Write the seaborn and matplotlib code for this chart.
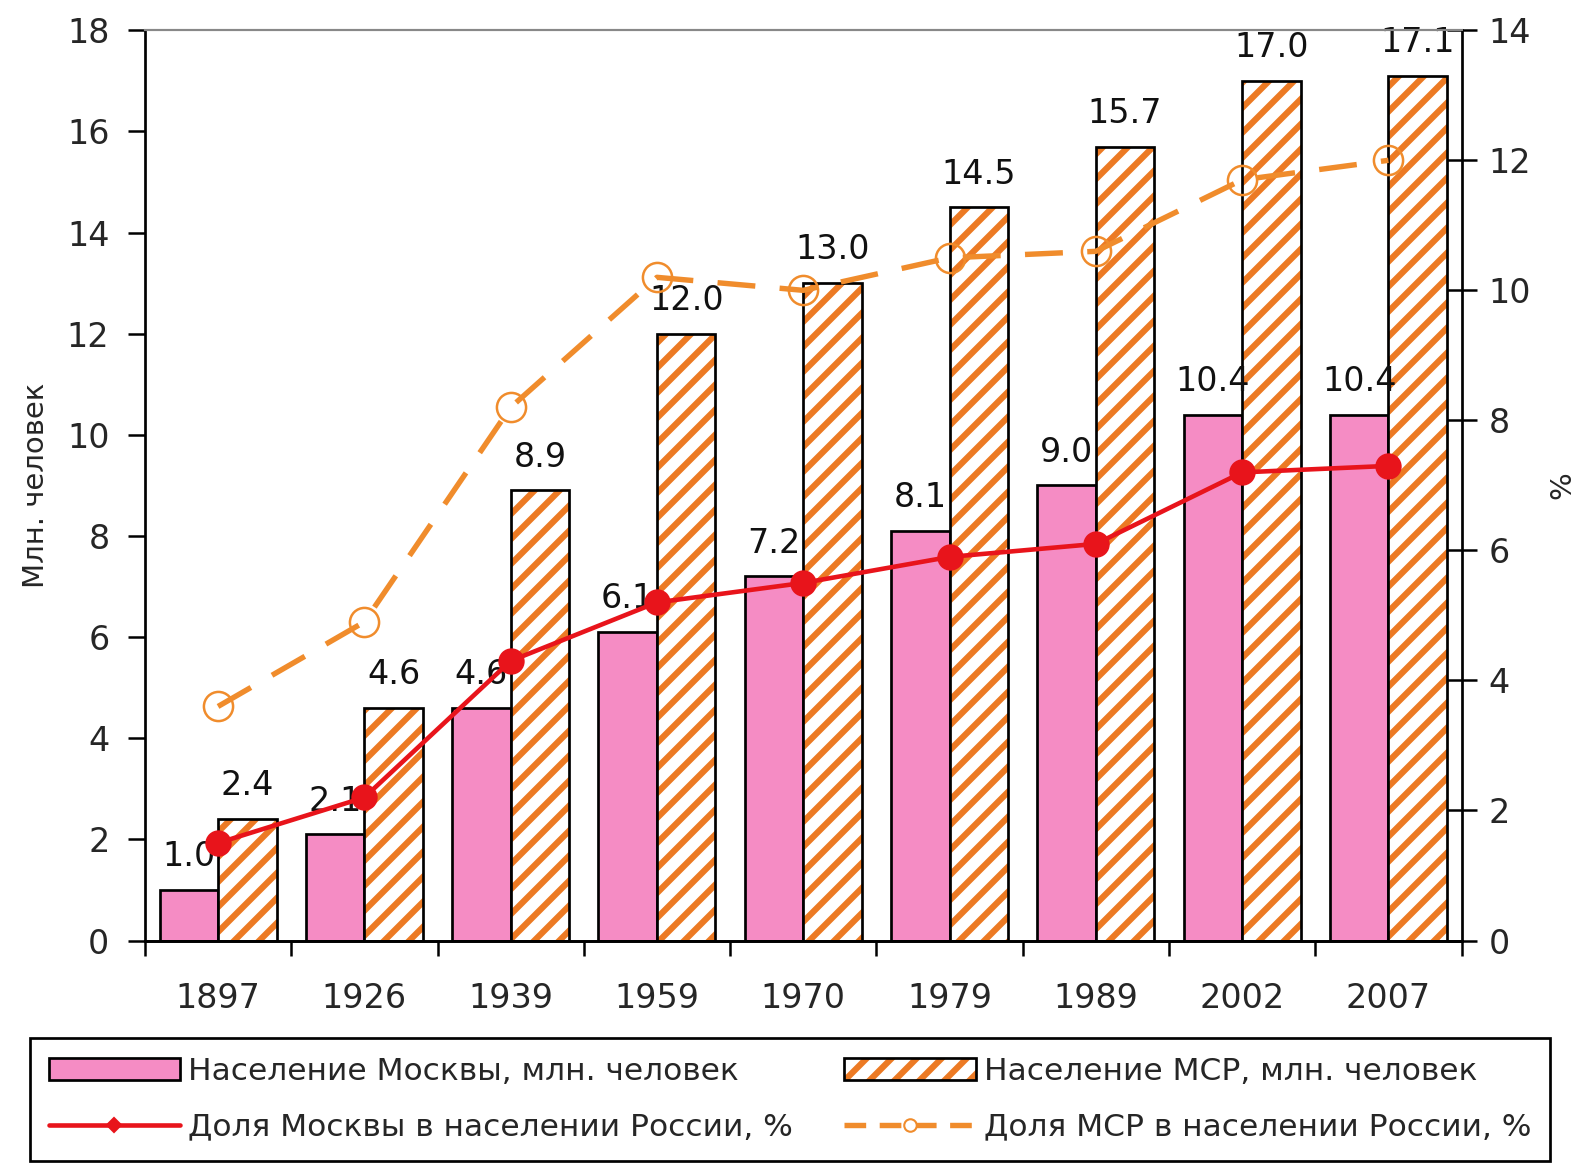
import matplotlib
matplotlib.use('Agg')
import matplotlib.pyplot as plt
from matplotlib.patches import Rectangle, Patch
from matplotlib.lines import Line2D
from matplotlib.legend_handler import HandlerTuple
import pandas as pd
import numpy as np
import seaborn as sns

years = ['1897', '1926', '1939', '1959', '1970', '1979', '1989', '2002', '2007']
moscow_pop = [1.0, 2.1, 4.6, 6.1, 7.2, 8.1, 9.0, 10.4, 10.4]
msr_pop = [2.4, 4.6, 8.9, 12.0, 13.0, 14.5, 15.7, 17.0, 17.1]
moscow_share = [1.5, 2.2, 4.3, 5.2, 5.5, 5.9, 6.1, 7.2, 7.3]
msr_share = [3.6, 4.9, 8.2, 10.2, 10.0, 10.5, 10.6, 11.7, 12.0]

lbl_moscow_pop = 'Население Москвы, млн. человек'
lbl_msr_pop = 'Население МСР, млн. человек'
lbl_moscow_share = 'Доля Москвы в населении России, %'
lbl_msr_share = 'Доля МСР в населении России, %'

pink = '#f58cc4'
orange = '#ec7a24'
red = '#e8141b'
line_orange = '#f08c2c'

pop_df = pd.DataFrame({
    'year': years * 2,
    'value': moscow_pop + msr_pop,
    'series': [lbl_moscow_pop] * len(years) + [lbl_msr_pop] * len(years),
})

sns.set_theme(style='ticks')
plt.rcParams['font.family'] = ['DejaVu Sans']
plt.rcParams['hatch.linewidth'] = 3.0

fig = plt.figure(figsize=(10.5, 7.76), dpi=150)
ax = fig.add_axes([0.092, 0.192, 0.836, 0.782])

sns.barplot(data=pop_df, x='year', y='value', hue='series', order=years,
            palette=[pink, 'white'], saturation=1, edgecolor='black', linewidth=1.3,
            width=0.8, legend=False, ax=ax, zorder=2)

# hatch the MSR bars in orange, then put a black outline on top
for bar in ax.containers[1]:
    bar.set_hatch('//')
    bar.set_edgecolor(orange)
    bar.set_linewidth(0)
    ax.add_patch(Rectangle(bar.get_xy(), bar.get_width(), bar.get_height(),
                           fill=False, edgecolor='black', linewidth=1.3, zorder=3))

for cont in ax.containers:
    ax.bar_label(cont, fmt='%.1f', padding=8, fontsize=16, color='#111111')

ax.set_ylim(0, 18)
ax.set_yticks(np.arange(0, 19, 2))
ax.set_xlabel('')
ax.set_ylabel('Млн. человек', fontsize=14, labelpad=8)
ax.set_xticks(np.arange(-0.5, 9, 1), minor=True)
ax.tick_params(axis='x', which='major', length=0, pad=20, labelsize=16)
ax.tick_params(axis='x', which='minor', length=7, width=1.2, direction='out', color='black')
ax.tick_params(axis='y', length=8, width=1.2, direction='out', pad=9, labelsize=16, color='black')

ax2 = ax.twinx()
sns.pointplot(x=years, y=moscow_share, order=years, ax=ax2, color=red,
              markers='o', linestyles='-', errorbar=None,
              markersize=11, linewidth=2.2)
sns.pointplot(x=years, y=msr_share, order=years, ax=ax2, color=line_orange,
              markers='o', linestyles='--', errorbar=None,
              markersize=14, linewidth=2.6)
red_line, orange_line = ax2.lines[0], ax2.lines[1]
orange_line.set_dashes((7, 4.5))
orange_line.set_markerfacecolor('none')
orange_line.set_markeredgecolor(line_orange)
orange_line.set_markeredgewidth(1.2)

ax2.set_ylim(0, 14)
ax2.set_yticks(np.arange(0, 15, 2))
ax2.set_ylabel('%', fontsize=14, labelpad=8)
ax2.tick_params(axis='y', length=14, width=1.2, direction='inout', pad=6, labelsize=16, color='black')
ax.set_xlim(-0.5, 8.5)

for a in (ax, ax2):
    a.spines['top'].set_color('#888888')
    a.spines['top'].set_linewidth(1.0)
    for side in ('left', 'right', 'bottom'):
        a.spines[side].set_color('black')
        a.spines[side].set_linewidth(1.3)
ax.spines['right'].set_visible(False)
ax2.spines['left'].set_visible(False)

handles = [
    Patch(facecolor=pink, edgecolor='black', linewidth=1.3),
    Line2D([], [], color=red, linewidth=2.2, marker='D', markersize=5),
    (Patch(facecolor='white', edgecolor=orange, hatch='//', linewidth=0),
     Patch(fill=False, edgecolor='black', linewidth=1.3)),
    Line2D([], [], color=line_orange, linewidth=2.6, dashes=(4, 2.5), marker='o',
           markersize=6, markerfacecolor='white', markeredgecolor=line_orange),
]
labels = [lbl_moscow_pop, lbl_moscow_share, lbl_msr_pop, lbl_msr_share]
leg = fig.legend(handles, labels, loc='lower left', ncol=2, mode='expand',
                 bbox_to_anchor=(0.019, 0.003, 0.965, 0.1), borderaxespad=0,
                 fontsize=15, handlelength=4.2, handletextpad=0.25, borderpad=0.6,
                 labelspacing=0.85, fancybox=False, framealpha=1,
                 handler_map={tuple: HandlerTuple(ndivide=1, pad=0)})
leg.get_frame().set_edgecolor('black')
leg.get_frame().set_linewidth(1.3)

fig.savefig('out.png', dpi=150)
